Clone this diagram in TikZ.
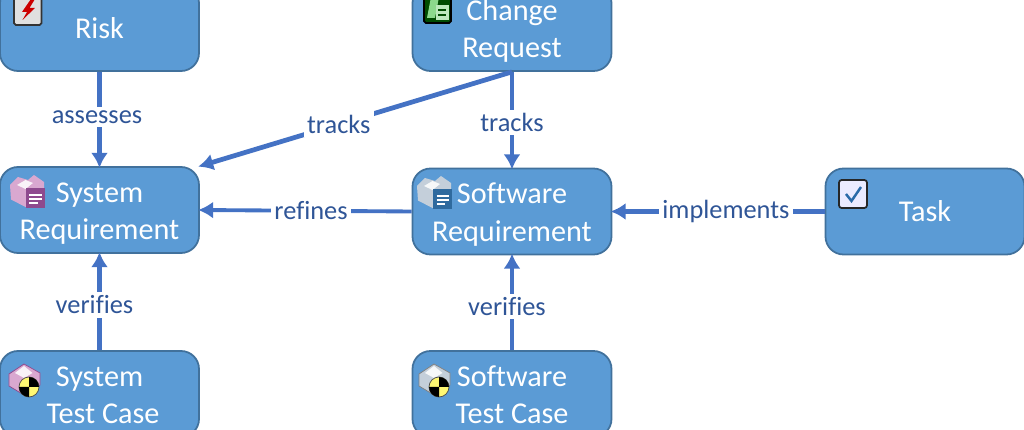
\documentclass[tikz,border=0pt]{standalone}
\usepackage{fontspec}
\setmainfont{Carlito}[Ligatures=NoCommon]
\usetikzlibrary{arrows.meta}

\definecolor{boxfill}{HTML}{5B9BD5}
\definecolor{boxline}{HTML}{41719C}
\definecolor{linkline}{HTML}{4472C4}
\definecolor{linktext}{HTML}{2F5597}
\definecolor{reqpurple}{HTML}{8E4A8E}
\definecolor{reqblue}{HTML}{2F6A9E}
\definecolor{blockpurple}{HTML}{D9A8D0}
\definecolor{blockgray}{HTML}{C4CFDA}
\definecolor{checkblue}{HTML}{2A6AA8}

% block with a sheet on it: fill, dark
\newcommand{\reqicon}[3]{%
  \begin{scope}[shift={(#1)}]
    \fill [#2] (-.36,.14) -- (-.2,.3) -- (0,.24) -- (.12,.34) -- (.32,.2) -- (.32,-.1) -- (-.05,-.3) -- (-.34,-.15) -- cycle;
    \fill [white!85!#2] (-.22,.14) -- (-.05,.24) -- (.1,.18) -- (-.05,.06) -- cycle;
    \fill [#3] (-.04,-.32) rectangle (.33,.08);
    \draw [white, line width=.6pt] (.03,-.06) -- (.27,-.06) (.03,-.14) -- (.27,-.14) (.03,-.22) -- (.2,-.22);
  \end{scope}}
% block with a crash test disc on it: fill, dark
\newcommand{\caseicon}[3]{%
  \begin{scope}[shift={(#1)}]
    \fill [#2, draw=#3, thin] (-.32,.12) -- (-.02,.32) -- (.3,.14) -- (.3,-.1) -- (-.02,-.3) -- (-.32,-.12) -- cycle;
    \fill [white!85!#2] (-.2,.14) -- (-.02,.28) -- (.15,.14) -- (-.02,.04) -- cycle;
    \fill [yellow!55!white, draw=black!70, thin] (.08,-.14) circle (.2);
    \fill [black] (.08,-.14) -- (.08,.06) arc (90:0:.2) -- cycle;
    \fill [black] (.08,-.14) -- (.08,-.34) arc (270:180:.2) -- cycle;
  \end{scope}}

\begin{document}
\begin{tikzpicture}

    \tikzset{block/.style={%
      draw=boxline,%
      fill=boxfill,%
      line width=1pt,%
      rectangle,%
      rounded corners=.36cm,%
      minimum width=3.98cm,%
      minimum height=1.72cm,%
      inner sep=0pt,%
      align=center,%
      text=white,%
      font=\fontsize{17.2}{21.5}\selectfont}%
    };

    \tikzset{twolines/.style={block, text height=1.3cm, text depth=.1cm}};

    \tikzset{link/.style={->, >={Latex[length=.3cm,width=.34cm]}, linkline, line width=2.7pt, shorten >=-1pt}};

    \tikzset{linklabel/.style={%
      fill=white,%
      text=linktext,%
      inner sep=2pt,%
      font=\fontsize{15}{17}\selectfont}%
    };

    \useasboundingbox (0, 0) rectangle (20.48, 8.6);

    %%%%%%%%%%%%%%%
    %   blocks    %
    %%%%%%%%%%%%%%%
    \node [block] (rsk) at (1.99, 8.04) {Risk};
    \node [twolines] (chg) at (10.24, 8.04) {Change\\Request};
    \node [twolines] (srq) at (1.99, 4.4) {System\\Requirement};
    \node [twolines] (frq) at (10.24, 4.37) {Software\\Requirement};
    \node [block] (tsk) at (18.5, 4.37) {Task};
    \node [twolines] (stc) at (1.99, .72) {System\\\hspace*{.14cm}Test Case};
    \node [twolines] (ftc) at (10.24, .72) {Software\\Test Case};

    %%%%%%%%%%%%%%%
    %    links    %
    %%%%%%%%%%%%%%%
    \draw [link] (rsk.south) -- node [linklabel, pos=.48, xshift=-.05cm] (lbas) {assesses} (srq.north);
    \draw [link] (chg.south) -- node [linklabel, pos=.555] (lbtr) {tracks} (srq.north east);
    \draw [link] (chg.south) -- node [linklabel, pos=.53] (lbtf) {tracks} (frq.north);
    \draw [link, line width=2.2pt] (frq.west) -- node [linklabel, pos=.475] (lbrf) {refines} (srq.east);
    \draw [link] (tsk.west) -- node [linklabel, pos=.465] (lbim) {implements} (frq.east);
    \draw [link] (stc.north) -- node [linklabel, pos=.47, xshift=-.1cm] (lbvs) {verifies} (srq.south);
    \draw [link] (ftc.north) -- node [linklabel, pos=.46, xshift=-.1cm] (lbvf) {verifies} (frq.south);

    %%%%%%%%%%%%%%%
    %    icons    %
    %%%%%%%%%%%%%%%
    % risk
    \fill [white!88!black, draw=black!80, line width=1pt, rounded corners=1pt] (.28, 8.1) rectangle (.83, 8.72);
    \fill [red!80!black] (.62, 8.62) -- (.44, 8.36) -- (.54, 8.36) -- (.45, 8.2) -- (.7, 8.44) -- (.59, 8.44) -- (.7, 8.62) -- cycle;
    % change request
    \fill [green!30!black, draw=black, line width=1pt, rounded corners=1pt] (8.48, 8.14) rectangle (9.02, 8.7);
    \fill [green!50!gray!60!white] (8.54, 8.24) -- (8.62, 8.66) -- (8.78, 8.66) -- (8.7, 8.24) -- cycle;
    \fill [green!50!gray!35!white] (8.72, 8.2) rectangle (8.97, 8.5);
    \draw [green!30!black, line width=.6pt] (8.76, 8.4) -- (8.92, 8.4) (8.76, 8.3) -- (8.92, 8.3);
    % requirements
    \reqicon{.56, 4.76}{blockpurple}{reqpurple}
    \reqicon{8.7, 4.74}{blockgray}{reqblue}
    % test cases
    \caseicon{.5, 1.0}{blockpurple}{reqpurple}
    \caseicon{8.7, 1.0}{blockgray}{gray}
    % task
    \fill [blue!8!white, draw=black!85, line width=1pt, rounded corners=1.5pt] (16.78, 4.44) rectangle (17.34, 5.0);
    \draw [checkblue, line width=1.4pt] (16.92, 4.72) -- (17.03, 4.58) -- (17.22, 4.86);

  \end{tikzpicture}
\end{document}
